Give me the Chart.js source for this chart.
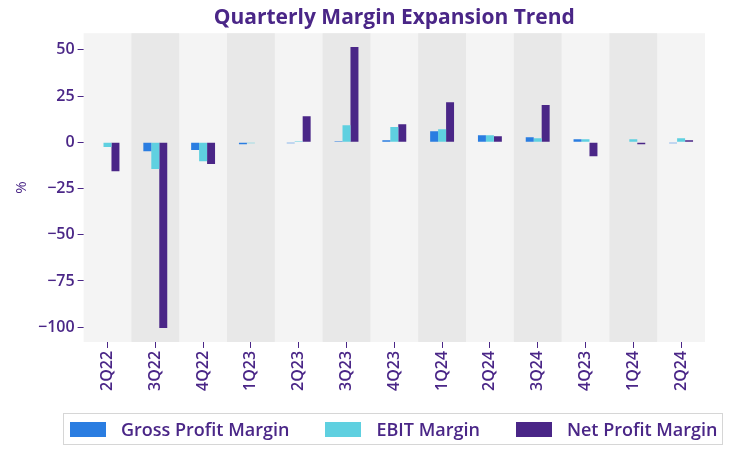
<!DOCTYPE html>
<html lang="en">
<head>
  <meta charset="UTF-8" />
  <title>Quarterly Margin Expansion Trend</title>
  <script src="https://cdn.jsdelivr.net/npm/chart.js"></script>
  <style>
    body { margin: 0; background: #fff; }
    #wrap { position: relative; width: 733px; height: 455px; }
    #legend {
      position: absolute;
      left: 63px;
      top: 413px;
      width: 660px;
      height: 32px;
      border: 1px solid #d6d6d6;
      display: flex;
      align-items: center;
      font-family: "Open Sans", sans-serif;
      font-weight: 600;
      font-size: 18px;
      color: #4a2687;
      box-sizing: border-box;
    }
    #legend span.sw {
      display: inline-block;
      width: 36px;
      height: 15px;
      margin-right: 15px;
    }
    #legend .item { display: flex; align-items: center; white-space: nowrap; }
  </style>
</head>
<body>
  <div id="wrap">
    <canvas id="marginChart"></canvas>
    <div id="legend"></div>
  </div>

  <script>
    const quarters = ['2Q22', '3Q22', '4Q22', '1Q23', '2Q23', '3Q23', '4Q23', '1Q24', '2Q24', '3Q24', '4Q23', '1Q24', '2Q24'];
    const grossMargin = [0, -4.9, -4.2, -1.1, -0.5, 0.5, 1.1, 6.0, 3.8, 2.7, 1.6, 0, -0.5];
    const ebitMargin = [-2.5, -14.5, -10.3, -0.5, 0.5, 9.2, 8.2, 7.1, 3.8, 2.2, 1.6, 1.6, 2.2];
    const netMargin = [-15.6, -100.4, -11.8, 0, 14.1, 51.6, 9.8, 21.7, 3.3, 20.1, -7.6, -1.1, 1.1];
    const yTicks = [50, 25, 0, -25, -50, -75, -100];

    const purple = '#4a2687';
    const fontFamily = '"Open Sans", sans-serif';

    // alternating column shading behind the bars
    const bandPlugin = {
      id: 'bands',
      beforeDatasetsDraw(chart) {
        const { ctx, chartArea, scales } = chart;
        const x = scales.x;
        const step = chartArea.width / quarters.length;
        ctx.save();
        ctx.fillStyle = '#f4f4f4';
        ctx.fillRect(chartArea.left, chartArea.top, chartArea.width, chartArea.height);
        ctx.fillStyle = '#e8e8e8';
        quarters.forEach((q, i) => {
          if (i % 2 === 1) {
            const c = x.getPixelForValue(i);
            ctx.fillRect(c - step / 2, chartArea.top, step, chartArea.height);
          }
        });
        ctx.restore();
      }
    };

    const chart = new Chart(document.getElementById('marginChart'), {
      type: 'bar',
      data: {
        labels: quarters,
        datasets: [
          { label: 'Gross Profit Margin', data: grossMargin, backgroundColor: '#2a7de1' },
          { label: 'EBIT Margin', data: ebitMargin, backgroundColor: '#5fd0e0' },
          { label: 'Net Profit Margin', data: netMargin, backgroundColor: purple }
        ]
      },
      options: {
        responsive: true,
        maintainAspectRatio: false,
        animation: false,
        layout: { padding: { left: 9, right: 28, top: 3, bottom: 61 } },
        datasets: { bar: { categoryPercentage: 0.5, barPercentage: 1.0 } },
        plugins: {
          title: {
            display: true,
            text: 'Quarterly Margin Expansion Trend',
            color: purple,
            fullSize: false,
            font: { family: fontFamily, size: 21, weight: 'bold' },
            padding: { top: 2, bottom: 3 }
          },
          legend: { display: false },
          tooltip: { enabled: false }
        },
        scales: {
          x: {
            grid: { drawOnChartArea: false, offset: false, color: purple, tickLength: 6 },
            border: { display: false },
            ticks: {
              color: purple,
              minRotation: 90,
              maxRotation: 90,
              font: { family: fontFamily, size: 16, weight: '600' }
            }
          },
          y: {
            min: -108,
            max: 59,
            grid: { drawOnChartArea: false, color: purple, tickLength: 6 },
            border: { display: false },
            afterBuildTicks(scale) {
              scale.ticks = yTicks.map(v => ({ value: v }));
            },
            ticks: {
              color: purple,
              font: { family: fontFamily, size: 16, weight: '600' },
              callback: v => (v < 0 ? '\u2212' + Math.abs(v) : v)
            },
            title: {
              display: true,
              text: '%',
              color: purple,
              font: { family: fontFamily, size: 15 }
            }
          }
        }
      },
      plugins: [bandPlugin]
    });

    // legend built from the datasets
    const legend = document.getElementById('legend');
    const gaps = ['6px', '36px', '36px'];
    chart.data.datasets.forEach((ds, i) => {
      const item = document.createElement('div');
      item.className = 'item';
      item.style.marginLeft = gaps[i];
      item.innerHTML = '<span class="sw" style="background:' + ds.backgroundColor + '"></span>' + ds.label;
      legend.appendChild(item);
    });
  </script>
</body>
</html>
